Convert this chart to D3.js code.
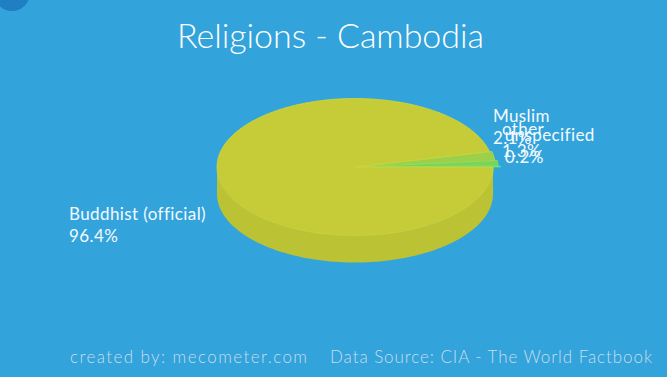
<!DOCTYPE html>
<html>
<head>
<meta charset="utf-8">
<script src="https://cdn.jsdelivr.net/npm/d3@7"></script>
<style>
	body { margin: 0; padding: 0; background: #33a3db; }
	svg { display: block; font-family: "Lato", "Open Sans", sans-serif; }
</style>
</head>
<body>
<svg id="chart" width="667" height="377"></svg>
<script>
var categories = ["Buddhist (official)", "Muslim", "other", "unspecified"];
var shares = [96.4, 2.1, 1.3, 0.2];
var sliceColors = ["#c5cc37", "#9ccf4a", "#7ad45c", "#4ee07c"];

var titleText = "Religions - Cambodia";
var creditText = "created by: mecometer.com";
var sourceText = "Data Source: CIA - The World Factbook";

var width = 667, height = 377;
var cx = 355, cy = 167; // centre of the top face
var rx = 138, ry = 68.5, depth = 27;
var minorOffset = 2.5; // small slices stick out a little

var svg = d3.select("#chart");

svg.append("rect")
	.attr("width", width)
	.attr("height", height)
	.style("fill", "#33a3db");

// bit of the round button peeking in at the top left
svg.append("circle")
	.attr("cx", 12)
	.attr("cy", -7)
	.attr("r", 18)
	.style("fill", "#1f7fc2");

var data = categories.map(function(c, i) { return { name: c, value: shares[i], color: sliceColors[i] }; });

// start at 3 o'clock, go clockwise
var pie = d3.pie()
	.sort(null)
	.value(function(d) { return d.value; })
	.startAngle(Math.PI / 2)
	.endAngle(Math.PI / 2 + 2 * Math.PI);

var arcs = pie(data);

arcs.forEach(function(d, i) {
	var m = (d.startAngle + d.endAngle) / 2;
	var off = d.value < 50 ? minorOffset * i : 0;
	d.mid = m;
	d.dx = off * Math.sin(m);
	d.dy = -off * Math.cos(m) * ry / rx;
});

function px(d, t) { return cx + d.dx + rx * Math.sin(t); }
function py(d, t, z) { return cy + d.dy - ry * Math.cos(t) + z; }

function rim(d, t0, t1, z) {
	var pts = [];
	var n = Math.max(2, Math.ceil((t1 - t0) / 0.02));
	for (var i = 0; i <= n; i++) {
		var t = t0 + (t1 - t0) * i / n;
		pts.push([px(d, t), py(d, t, z)]);
	}
	return pts;
}

var line = d3.line();

function topPath(d) {
	var pts = [[cx + d.dx, cy + d.dy]].concat(rim(d, d.startAngle, d.endAngle, 0));
	return line(pts) + "Z";
}

function wallPath(d, t) {
	var pts = [
		[cx + d.dx, cy + d.dy],
		[px(d, t), py(d, t, 0)],
		[px(d, t), py(d, t, depth)],
		[cx + d.dx, cy + d.dy + depth]
	];
	return line(pts) + "Z";
}

// outer side only where it faces the viewer (the front half)
function outerPath(d) {
	var parts = [];
	for (var k = -1; k <= 2; k++) {
		var a0 = Math.max(d.startAngle, Math.PI / 2 + k * 2 * Math.PI);
		var a1 = Math.min(d.endAngle, 3 * Math.PI / 2 + k * 2 * Math.PI);
		if (a1 > a0) {
			var topEdge = rim(d, a0, a1, 0);
			var bottomEdge = rim(d, a0, a1, depth).reverse();
			parts.push(line(topEdge.concat(bottomEdge)) + "Z");
		}
	}
	return parts.join(" ");
}

// only the end walls facing forward can be seen, and only through the gaps
var walls = [];
arcs.forEach(function(d) {
	if (d.value < 50) walls.push({ arc: d, t: d.endAngle });
});

svg.append("defs").append("clipPath")
	.attr("id", "topClip")
	.append("ellipse")
	.attr("cx", cx)
	.attr("cy", cy - 1)
	.attr("rx", rx + 1)
	.attr("ry", ry);

var pieG = svg.append("g").attr("class", "pie");

pieG.append("g")
	.attr("clip-path", "url(#topClip)")
	.selectAll(".wall")
	.data(walls)
	.enter().append("path")
	.attr("class", "wall")
	.attr("d", function(w) { return wallPath(w.arc, w.t); })
	.style("fill", function(w) { return d3.color(w.arc.data.color).darker(0.3); });

pieG.selectAll(".outer")
	.data(arcs)
	.enter().append("path")
	.attr("class", "outer")
	.attr("d", outerPath)
	.style("fill", function(d) { return d3.color(d.data.color).darker(0.14); });

pieG.selectAll(".top")
	.data(arcs.slice().reverse())
	.enter().append("path")
	.attr("class", "top")
	.attr("d", topPath)
	.style("fill", function(d) { return d.data.color; })
	.style("stroke", function(d) { return d3.color(d.data.color).brighter(0.15); })
	.style("stroke-width", 0.8);

// data labels, no connectors
function labelPos(d) {
	var s = Math.sin(d.mid);
	if (s >= 0) {
		var yc = cy - 20 + 123 * -Math.cos(d.mid);
		var dy = (yc - cy) / 89;
		var x = cx + 154 * Math.sqrt(Math.max(0, 1 - dy * dy));
		return { x: x, y: yc };
	}
	return { x: 69, y: cy + 58 };
}

svg.selectAll(".label")
	.data(arcs)
	.enter().append("text")
	.attr("class", "label")
	.style("font-size", "17px")
	.style("letter-spacing", "0.4px")
	.style("fill", "#f4faff")
	.each(function(d) {
		var p = labelPos(d);
		var t = d3.select(this);
		t.append("tspan")
			.attr("x", p.x)
			.attr("y", p.y - 5)
			.text(d.data.name);
		t.append("tspan")
			.attr("x", p.x)
			.attr("y", p.y + 17)
			.text(d.data.value + "%");
	});

svg.append("text")
	.attr("x", 177)
	.attr("y", 48)
	.attr("textLength", 307)
	.attr("lengthAdjust", "spacing")
	.style("font-size", "34px")
	.style("font-weight", 300)
	.style("fill", "#ffffff")
	.text(titleText);

svg.append("text")
	.attr("x", 70)
	.attr("y", 363)
	.attr("textLength", 237)
	.attr("lengthAdjust", "spacing")
	.style("font-size", "17px")
	.style("font-weight", 300)
	.style("fill", "#c8dded")
	.text(creditText);

svg.append("text")
	.attr("x", 330)
	.attr("y", 363)
	.attr("textLength", 322)
	.attr("lengthAdjust", "spacing")
	.style("font-size", "17px")
	.style("font-weight", 300)
	.style("fill", "#c8dded")
	.text(sourceText);
</script>
</body>
</html>
